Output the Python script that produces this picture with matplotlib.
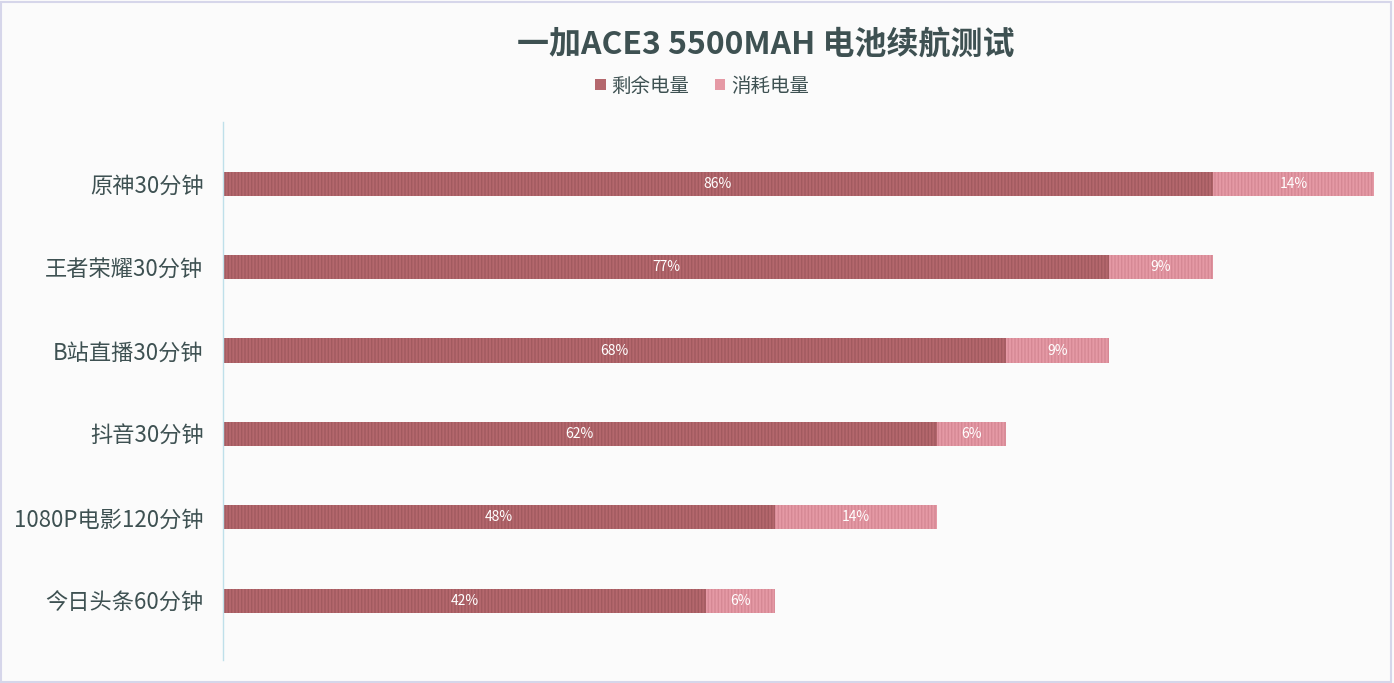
import matplotlib
matplotlib.use("Agg")
import matplotlib.pyplot as plt
from matplotlib.patches import Rectangle

plt.rcParams['font.family'] = ['Noto Sans CJK SC', 'DejaVu Sans']
plt.rcParams['hatch.linewidth'] = 1.0

categories = ["原神30分钟", "王者荣耀30分钟", "B站直播30分钟", "抖音30分钟", "1080P电影120分钟", "今日头条60分钟"]
remaining = [86, 77, 68, 62, 48, 42]
consumed = [14, 9, 9, 6, 14, 6]
series_names = ["剩余电量", "消耗电量"]
title = "一加ACE3 5500MAH 电池续航测试"

c_rem = "#b4676d"
c_rem_stripe = "#a15a5f"
c_con = "#e599a5"
c_con_stripe = "#d58894"
text_col = "#3e5152"

W, H = 1394, 683
fig = plt.figure(figsize=(W / 100, H / 100), dpi=100)
fig.patch.set_facecolor("#fbfbfb")
fig.patches.append(Rectangle((0.001, 0.002), 0.997, 0.995, transform=fig.transFigure,
                             fill=False, edgecolor="#d6d6ea", linewidth=1.5))

left, right = 223 / W, 1374 / W
top, bottom = 122 / H, 660 / H
ax = fig.add_axes([left, 1 - bottom, right - left, bottom - top])
ax.set_facecolor("none")

y = list(range(len(categories)))
bh = 0.29
b1 = ax.barh(y, remaining, height=bh, color=c_rem, edgecolor=c_rem_stripe, hatch="|||||", linewidth=0)
b2 = ax.barh(y, consumed, left=remaining, height=bh, color=c_con, edgecolor=c_con_stripe, hatch="|||||", linewidth=0)

for i in range(len(categories)):
    ax.text(remaining[i] / 2, i, f"{remaining[i]}%", ha="center", va="center",
            color="white", fontsize=10)
    ax.text(remaining[i] + consumed[i] / 2, i, f"{consumed[i]}%", ha="center", va="center",
            color="white", fontsize=10)

ax.set_xlim(0, 100)
ax.set_ylim(5.71, -0.74)
ax.set_yticks(y)
ax.set_yticklabels(categories, fontsize=16, color=text_col)
ax.tick_params(axis="y", length=0, pad=14)
ax.set_xticks([])
for s in ["top", "right", "bottom"]:
    ax.spines[s].set_visible(False)
ax.spines["left"].set_color("#bfe0ea")
ax.spines["left"].set_linewidth(1)

fig.text(766 / W, 1 - 45 / H, title, ha="center", va="center", fontsize=23,
         fontweight="bold", color=text_col)

leg = fig.legend([b1, b2], series_names, loc="center", bbox_to_anchor=(702 / W, 1 - 86 / H),
                 ncol=2, frameon=False, fontsize=14, handlelength=0.55, handleheight=0.55,
                 columnspacing=1.3, handletextpad=0.3, labelcolor=text_col)
for h, c in zip(leg.legend_handles, [c_rem, c_con]):
    h.set_hatch(None)
    h.set_facecolor(c)

fig.savefig("out.png", dpi=100, facecolor=fig.get_facecolor())
